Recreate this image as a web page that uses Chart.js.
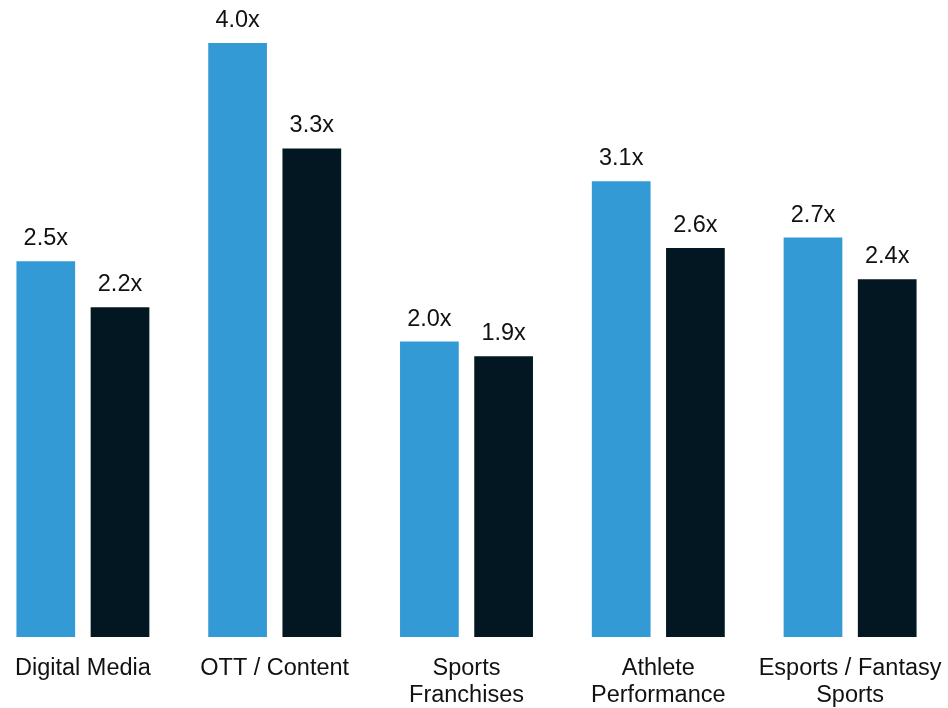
<!DOCTYPE html>
<html>
<head>
<meta charset="utf-8">
<script src="https://cdn.jsdelivr.net/npm/chart.js@4"></script>
<style>
  html, body { margin: 0; padding: 0; background: #fff; overflow: hidden; }
  #wrap { position: absolute; left: -13px; top: 0; width: 959px; height: 708px; }
</style>
</head>
<body>
<div id="wrap"><canvas id="multiples"></canvas></div>
<script>
// categories and values
var categories = ["Digital Media", "OTT / Content", ["Sports", "Franchises"], ["Athlete", "Performance"], ["Esports / Fantasy", "Sports"]];
var seriesA = [2.53, 4.0, 1.99, 3.07, 2.69];
var seriesB = [2.22, 3.29, 1.89, 2.62, 2.41];

var FONT = "'Liberation Sans', Arial, sans-serif";

//draw the "2.5x" labels above every bar
var valueLabels = {
	id: 'valueLabels',
	afterDatasetsDraw: function (chart) {
		var ctx = chart.ctx;
		ctx.save();
		ctx.font = "23.5px " + FONT;
		ctx.fillStyle = "#111111";
		ctx.textAlign = "center";
		ctx.textBaseline = "alphabetic";
		chart.data.datasets.forEach(function (ds, i) {
			chart.getDatasetMeta(i).data.forEach(function (bar, j) {
				ctx.fillText(ds.data[j].toFixed(1) + "x", bar.x, bar.y - 16);
			});
		});
		ctx.restore();
	}
};

new Chart("multiples", {
	type: 'bar',
	data: {
		labels: categories,
		datasets: [{
			data: seriesA,
			backgroundColor: "#349AD6",
			categoryPercentage: 0.774,
			barPercentage: 0.791
		}, {
			data: seriesB,
			backgroundColor: "#021722",
			categoryPercentage: 0.774,
			barPercentage: 0.791
		}]
	},
	options: {
		responsive: true,
		maintainAspectRatio: false,
		animation: false,
		layout: { padding: 0 },
		plugins: {
			legend: { display: false },
			tooltip: { enabled: false }
		},
		scales: {
			x: {
				grid: { display: false, drawTicks: true, tickLength: 18 },
				border: { display: false },
				ticks: {
					color: "#111111",
					font: { family: FONT, size: 23.5, lineHeight: 1.15 },
					padding: 0,
					maxRotation: 0,
					autoSkip: false
				},
				afterFit: function (scale) { scale.height = 71; }
			},
			y: {
				display: false,
				min: 0,
				max: 4.29
			}
		}
	},
	plugins: [valueLabels]
});
</script>
</body>
</html>
